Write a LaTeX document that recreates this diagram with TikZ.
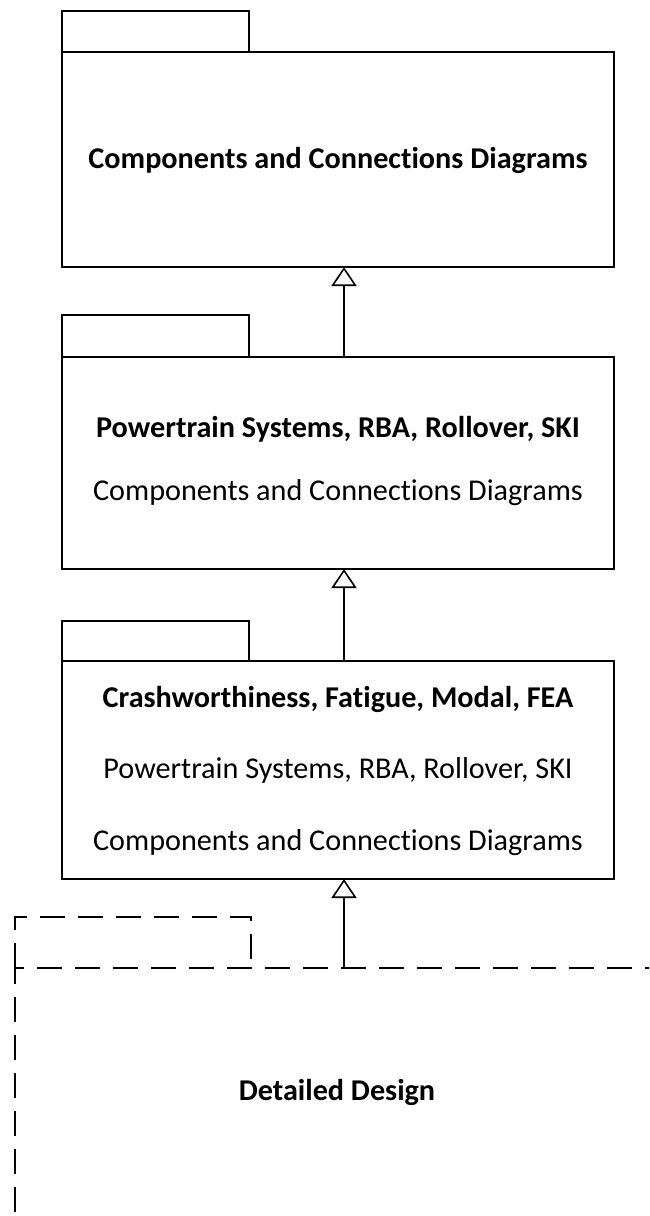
\documentclass[tikz,border=0pt]{standalone}
\usepackage{fontspec}
\setmainfont{Carlito}[Ligatures=NoCommon]
\usetikzlibrary{arrows.meta}
\begin{document}
\begin{tikzpicture}[x=1pt,y=-1pt,
  pkg/.style={draw, line width=1.8pt, inner sep=0pt, outer sep=0pt, anchor=north west},
  dashline/.style={line width=2.2pt, dash pattern=on 25pt off 13pt},
  area/.style={inner sep=0pt, outer sep=0pt, anchor=north west},
  title/.style={anchor=base, inner sep=0pt, font=\fontsize{30.2}{36}\selectfont\bfseries},
  sub/.style={anchor=base, inner sep=0pt, font=\fontsize{30.2}{36}\selectfont},
  gen/.style={line width=1.2pt, -{Triangle[open, length=19pt, width=25pt, line width=1.6pt]}}]
\useasboundingbox (0,0) rectangle (649,1216);
\clip (0,0) rectangle (649,1216);
\coordinate (ax) at (344,0);

% top package
\node[pkg, minimum width=187pt, minimum height=41pt] (t1) at (62,11) {};
\node[pkg, minimum width=552pt, minimum height=215pt] (b1) at (62,52) {};
\node[title] (l1) at (338,168) {Components and Connections Diagrams};

% second package
\node[pkg, minimum width=187pt, minimum height=42pt] (t2) at (62,315) {};
\node[pkg, minimum width=552pt, minimum height=212pt] (b2) at (62,357) {};
\node[title] (l2a) at (338,437) {Powertrain Systems, RBA, Rollover, SKI};
\node[sub] (l2b) at (338,500) {Components and Connections Diagrams};

% third package
\node[pkg, minimum width=187pt, minimum height=40pt] (t3) at (62,621) {};
\node[pkg, minimum width=552pt, minimum height=218pt] (b3) at (62,661) {};
\node[title] (l3a) at (338,707) {Crashworthiness, Fatigue, Modal, FEA};
\node[sub] (l3b) at (338,778) {Powertrain Systems, RBA, Rollover, SKI};
\node[sub] (l3c) at (338,850) {Components and Connections Diagrams};

% dashed package, running past the page edge
\node[area, minimum width=236pt, minimum height=51pt] (t4) at (15,917) {};
\node[area, minimum width=700pt, minimum height=320pt] (b4) at (15,968) {};
\draw[dashline] (t4.south west) -- (t4.north west) -- (t4.north east) -- (t4.south east);
\draw[dashline] (b4.south west) -- (b4.north west) -- (b4.north east);
\node[title] (l4) at (337,1100) {Detailed Design};

% generalisation arrows
\draw[gen] (b2.north -| ax) -- (b1.south -| ax);
\draw[gen] (b3.north -| ax) -- (b2.south -| ax);
\draw[gen] (b4.north -| ax) -- (b3.south -| ax);
\end{tikzpicture}
\end{document}
